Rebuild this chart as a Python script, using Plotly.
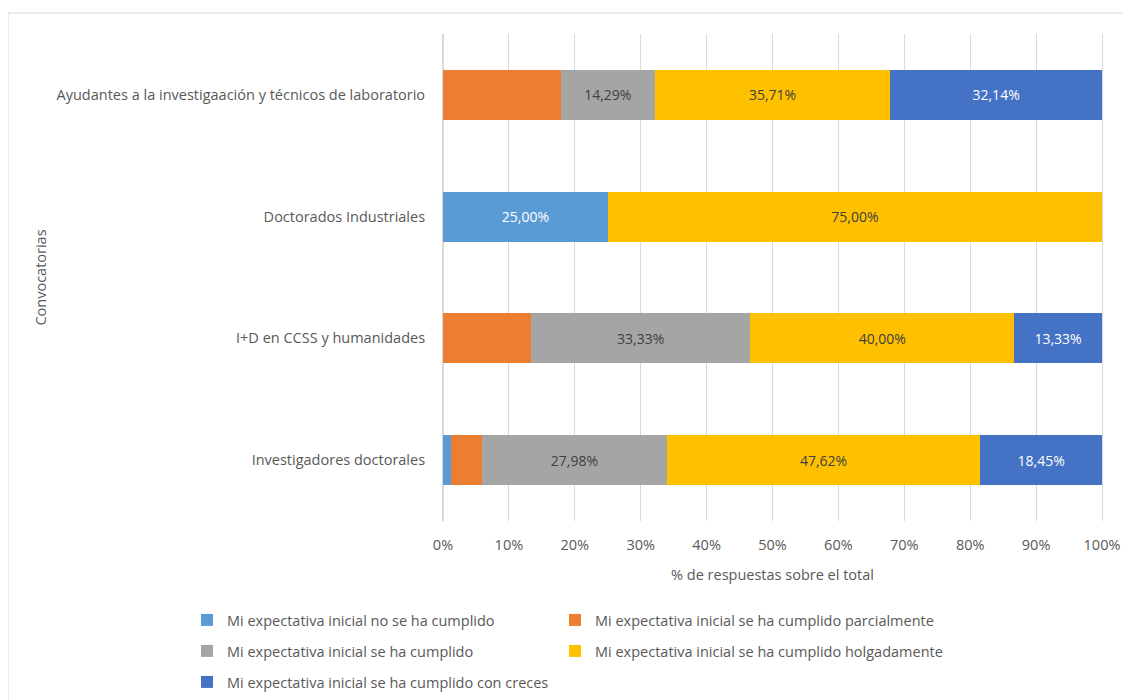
import plotly.graph_objects as go

categories = [
    "Ayudantes a la investigaación y técnicos de laboratorio",
    "Doctorados Industriales",
    "I+D en CCSS y humanidades",
    "Investigadores doctorales",
]
series_names = [
    "Mi expectativa inicial no se ha cumplido",
    "Mi expectativa inicial se ha cumplido parcialmente",
    "Mi expectativa inicial se ha cumplido",
    "Mi expectativa inicial se ha cumplido holgadamente",
    "Mi expectativa inicial se ha cumplido con creces",
]
no_cumplido = [0, 25.00, 0, 1.19]
parcialmente = [17.86, 0, 13.33, 4.76]
cumplido = [14.29, 0, 33.33, 27.98]
holgadamente = [35.71, 75.00, 40.00, 47.62]
con_creces = [32.14, 0, 13.33, 18.45]
# which series show data labels
show_label = [True, False, True, True, True]

values = [no_cumplido, parcialmente, cumplido, holgadamente, con_creces]
colors = ["#5B9BD5", "#ED7D31", "#A5A5A5", "#FFC000", "#4472C4"]
text_colors = ["#FFFFFF", "#404040", "#404040", "#404040", "#FFFFFF"]

font_family = "Open Sans, Noto Sans, sans-serif"
grey = "#595959"
FS = 14.5

# page has an 8px body margin: figure pixel = reference pixel - 8
OFF = 8
W, H = 1131 - OFF, 700 - OFF
L = 443 - OFF
R = W - (1102 - OFF)
T = 34 - OFF
B = H - (521 - OFF)
pw, ph = W - L - R, H - T - B


def px_x(p):
    return (p - OFF - L) / pw


def px_y(p):
    return (H - B - (p - OFF)) / ph


# legend grid: (text-left x, row centre y) in reference pixels, one legend per entry
legend_ids = ["legend", "legend2", "legend3", "legend4", "legend5"]
legend_pos = [(227, 620), (595, 620), (227, 651), (595, 651), (227, 682)]

fig = go.Figure()
for name, vals, col, tcol, show, lg in zip(series_names, values, colors, text_colors, show_label, legend_ids):
    txt = [(f"{v:.2f}%".replace(".", ",") if (show and v >= 10) else "") for v in vals]
    fig.add_trace(go.Bar(
        y=categories, x=vals, name=name, orientation="h",
        marker=dict(color=col, line=dict(width=0)),
        text=txt, textposition="inside", insidetextanchor="middle",
        textfont=dict(color=tcol, size=14, family=font_family),
        constraintext="none",
        hoverinfo="name+x",
        legend=lg,
        showlegend=True,
    ))

legend_common = dict(
    orientation="h",
    xref="paper", yref="paper",
    xanchor="left", yanchor="middle",
    traceorder="normal",
    font=dict(size=FS, color=grey, family=font_family),
    itemwidth=30,
    bgcolor="rgba(0,0,0,0)",
    visible=True,
)
legend_layout = {
    lid: dict(legend_common, x=px_x(tx - 40), y=px_y(ty))
    for lid, (tx, ty) in zip(legend_ids, legend_pos)
}

fig.update_layout(
    barmode="stack",
    bargap=0.59,
    width=W, height=H,
    margin=dict(l=L, r=R, t=T, b=B, autoexpand=False),
    showlegend=True,
    paper_bgcolor="white", plot_bgcolor="white",
    font=dict(family=font_family, size=FS, color=grey),
    xaxis=dict(
        range=[0, 100], dtick=10, ticksuffix="%",
        showgrid=True, gridcolor="#D9D9D9", gridwidth=1,
        zeroline=True, zerolinecolor="#D9D9D9", zerolinewidth=1,
        showline=False,
        title=dict(text="% de respuestas sobre el total", standoff=16, font=dict(size=FS, color=grey)),
        tickfont=dict(size=FS, color=grey),
        ticks="outside", ticklen=11, tickcolor="rgba(0,0,0,0)",
        fixedrange=True,
    ),
    yaxis=dict(
        autorange="reversed",
        showgrid=False, zeroline=False,
        showline=True, mirror=True, linecolor="#D9D9D9", linewidth=1,
        ticks="outside", ticklen=14, tickcolor="rgba(0,0,0,0)",
        tickfont=dict(size=FS, color=grey),
        title=dict(text="Convocatorias", standoff=6, font=dict(size=FS, color=grey)),
        fixedrange=True,
    ),
    shapes=[dict(
        type="rect", xref="paper", yref="paper",
        x0=px_x(8), x1=px_x(1160), y0=px_y(720), y1=px_y(13),
        line=dict(color="#D9D9D9", width=1), fillcolor="rgba(0,0,0,0)",
        layer="below",
    )],
    **legend_layout,
)

fig.write_html("out.html")
